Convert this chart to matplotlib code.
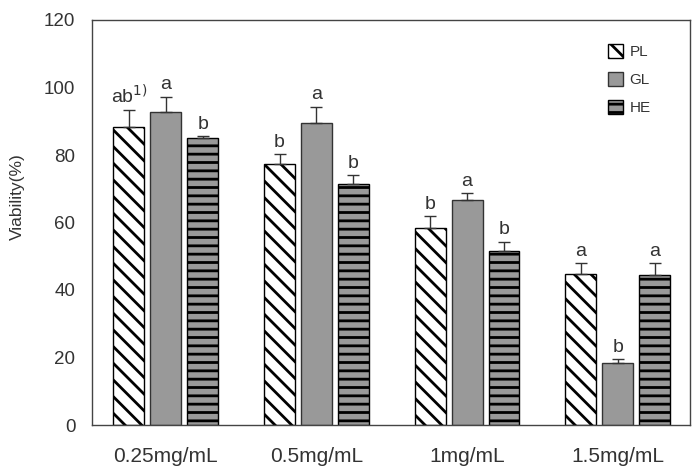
import matplotlib
matplotlib.use("Agg")
import matplotlib.pyplot as plt
import numpy as np

plt.rcParams['font.family'] = ['Liberation Sans', 'DejaVu Sans']
plt.rcParams['hatch.linewidth'] = 2.0

categories = ["0.25mg/mL", "0.5mg/mL", "1mg/mL", "1.5mg/mL"]
series = ["PL", "GL", "HE"]
pl_vals = [88.2, 77.2, 58.4, 44.8]
gl_vals = [92.6, 89.6, 66.6, 18.3]
he_vals = [84.9, 71.4, 51.6, 44.5]
pl_err = [5.0, 3.0, 3.5, 3.2]
gl_err = [4.7, 4.7, 2.0, 1.2]
he_err = [0.6, 2.6, 2.7, 3.5]
pl_letters = ["ab$^{1)}$", "b", "b", "a"]
gl_letters = ["a", "a", "a", "b"]
he_letters = ["b", "b", "b", "a"]
yticks = [0, 20, 40, 60, 80, 100, 120]

fig = plt.figure(figsize=(6.98, 4.68), dpi=100)
ax = fig.add_axes([92/698, 1-425/468, (690-92)/698, (425-20)/468])

x = np.arange(len(categories))
w = 0.205
off = 0.245
styles = [
    dict(facecolor="white", hatch="\\\\", edgecolor="black"),
    dict(facecolor="#999999", hatch="", edgecolor="#333333"),
    dict(facecolor="#999999", hatch="--", edgecolor="black"),
]
vals = [pl_vals, gl_vals, he_vals]
errs = [pl_err, gl_err, he_err]
letters = [pl_letters, gl_letters, he_letters]
for i, (v, e, lt, st) in enumerate(zip(vals, errs, letters, styles)):
    pos = x + (i - 1) * off
    ax.bar(pos, v, width=w, linewidth=1.0, label=series[i], zorder=2, **st)
    ax.errorbar(pos, v, yerr=[np.zeros(len(e)), e], fmt="none", ecolor="#333333",
                elinewidth=1.0, capsize=4, capthick=1.0, zorder=3)
    for p, vv, ee, t in zip(pos, v, e, lt):
        ax.text(p, vv + ee + 1.0, t, ha="center", va="bottom", fontsize=14, color="#333333")

ax.set_xlim(-0.49, 3.48)
ax.set_ylim(0, 120)
ax.set_yticks(yticks)
ax.set_xticks(x)
ax.set_xticklabels(categories, fontsize=15)
ax.tick_params(axis="both", length=0, colors="#333333")
ax.tick_params(axis="y", labelsize=13.5, pad=12)
ax.tick_params(axis="x", pad=16)
for s in ax.spines.values():
    s.set_color("#444444")
    s.set_linewidth(1.0)
ax.set_ylabel("Viability(%)", fontsize=12.5, color="#333333")
ax.yaxis.set_label_coords(-0.113, 0.563)

leg = ax.legend(loc="upper left", bbox_to_anchor=(0.863, 0.94), frameon=False, fontsize=11,
                handlelength=1.0, handleheight=1.0, handletextpad=0.4, labelspacing=0.85,
                borderpad=0, borderaxespad=0)
for t in leg.get_texts():
    t.set_color("#333333")

fig.savefig("out.png", dpi=100)
